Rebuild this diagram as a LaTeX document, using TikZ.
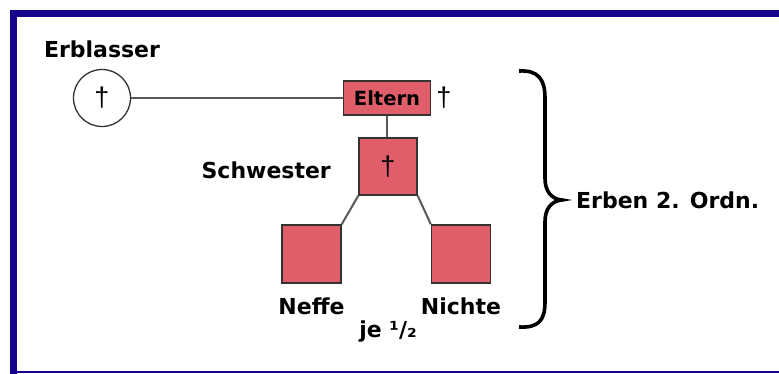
\documentclass[tikz,border=0pt]{standalone}
\usepackage{fontspec}
\newfontfamily\dejavu{DejaVu Sans}
\newfontfamily\liberation{Liberation Sans}
\usetikzlibrary{positioning}
\definecolor{rahmen}{RGB}{22,4,140}
\definecolor{erbrot}{RGB}{224,94,106}
\tikzset{
  beschr/.style={font=\dejavu\bfseries\fontsize{22}{24}\selectfont, inner sep=0pt},
  erbe/.style={draw=black!80, line width=1.4pt, fill=erbrot, minimum width=58pt, minimum height=57pt, inner sep=0pt},
  linie/.style={draw=black!65, line width=2pt},
  kreuz/.style={font=\liberation\fontsize{27}{27}\selectfont, inner sep=0pt}
}

\begin{document}
\begin{tikzpicture}[x=1pt,y=1pt]
    \useasboundingbox (0,0) rectangle (779,374);
    % Rahmen
    \fill[white] (0,0) rectangle (779,374);
    \fill[rahmen] (10,0) rectangle (17,364);
    \fill[rahmen] (10,357) rectangle (779,364);
    \fill[rahmen] (10,1) rectangle (779,2.5);
    % Erblasser
    \node[draw=black!80, line width=1.3pt, circle, minimum size=57pt, inner sep=0pt, kreuz] (erblasser) at (102,276) {†};
    \node[beschr, above=11pt of erblasser] (erblassertext) {Erblasser};
    % Eltern und Geschwister
    \node[erbe, minimum width=87pt, minimum height=34pt, font=\dejavu\bfseries\fontsize{19.5}{20}\selectfont] (eltern) at (387,276) {Eltern};
    \node[kreuz, right=5pt of eltern] (elternkreuz) {†};
    \node[erbe, kreuz] (schwester) at (388,207.5) {†};
    \node[beschr, anchor=east] (schwestertext) at (331,204) {Schwester};
    \node[erbe, minimum width=59pt, minimum height=58pt] (neffe) at (311.5,120) {};
    \node[erbe, minimum width=59pt, minimum height=58pt] (nichte) at (461,120) {};
    \node[beschr, below=14pt of neffe] (neffetext) {Neffe};
    \node[beschr, below=14pt of nichte] (nichtetext) {Nichte};
    \node[beschr, anchor=base] (anteil) at (388,36) {je ¹/₂};
    % Verbindungen
    \draw[linie] (erblasser) -- (eltern);
    \draw[linie] (eltern.south) -- (eltern.south |- schwester.north);
    \draw[linie] (schwester.south west) -- (neffe.north east);
    \draw[linie] (schwester.south east) -- (nichte.north west);
    % Klammer
    \coordinate (spitze) at (562,174);
    \draw[line width=3.6pt] (519,303) .. controls (538,304) and (545,295) .. (545,276)
        -- (545,196) .. controls (545,183) and (551,175) .. (spitze)
        .. controls (551,173) and (545,165) .. (545,152)
        -- (545,72) .. controls (545,53) and (538,46) .. (519,47);
    \node[beschr, anchor=west] (ordnung) at (576,174) {Erben 2. Ordn.};
\end{tikzpicture}
\end{document}
